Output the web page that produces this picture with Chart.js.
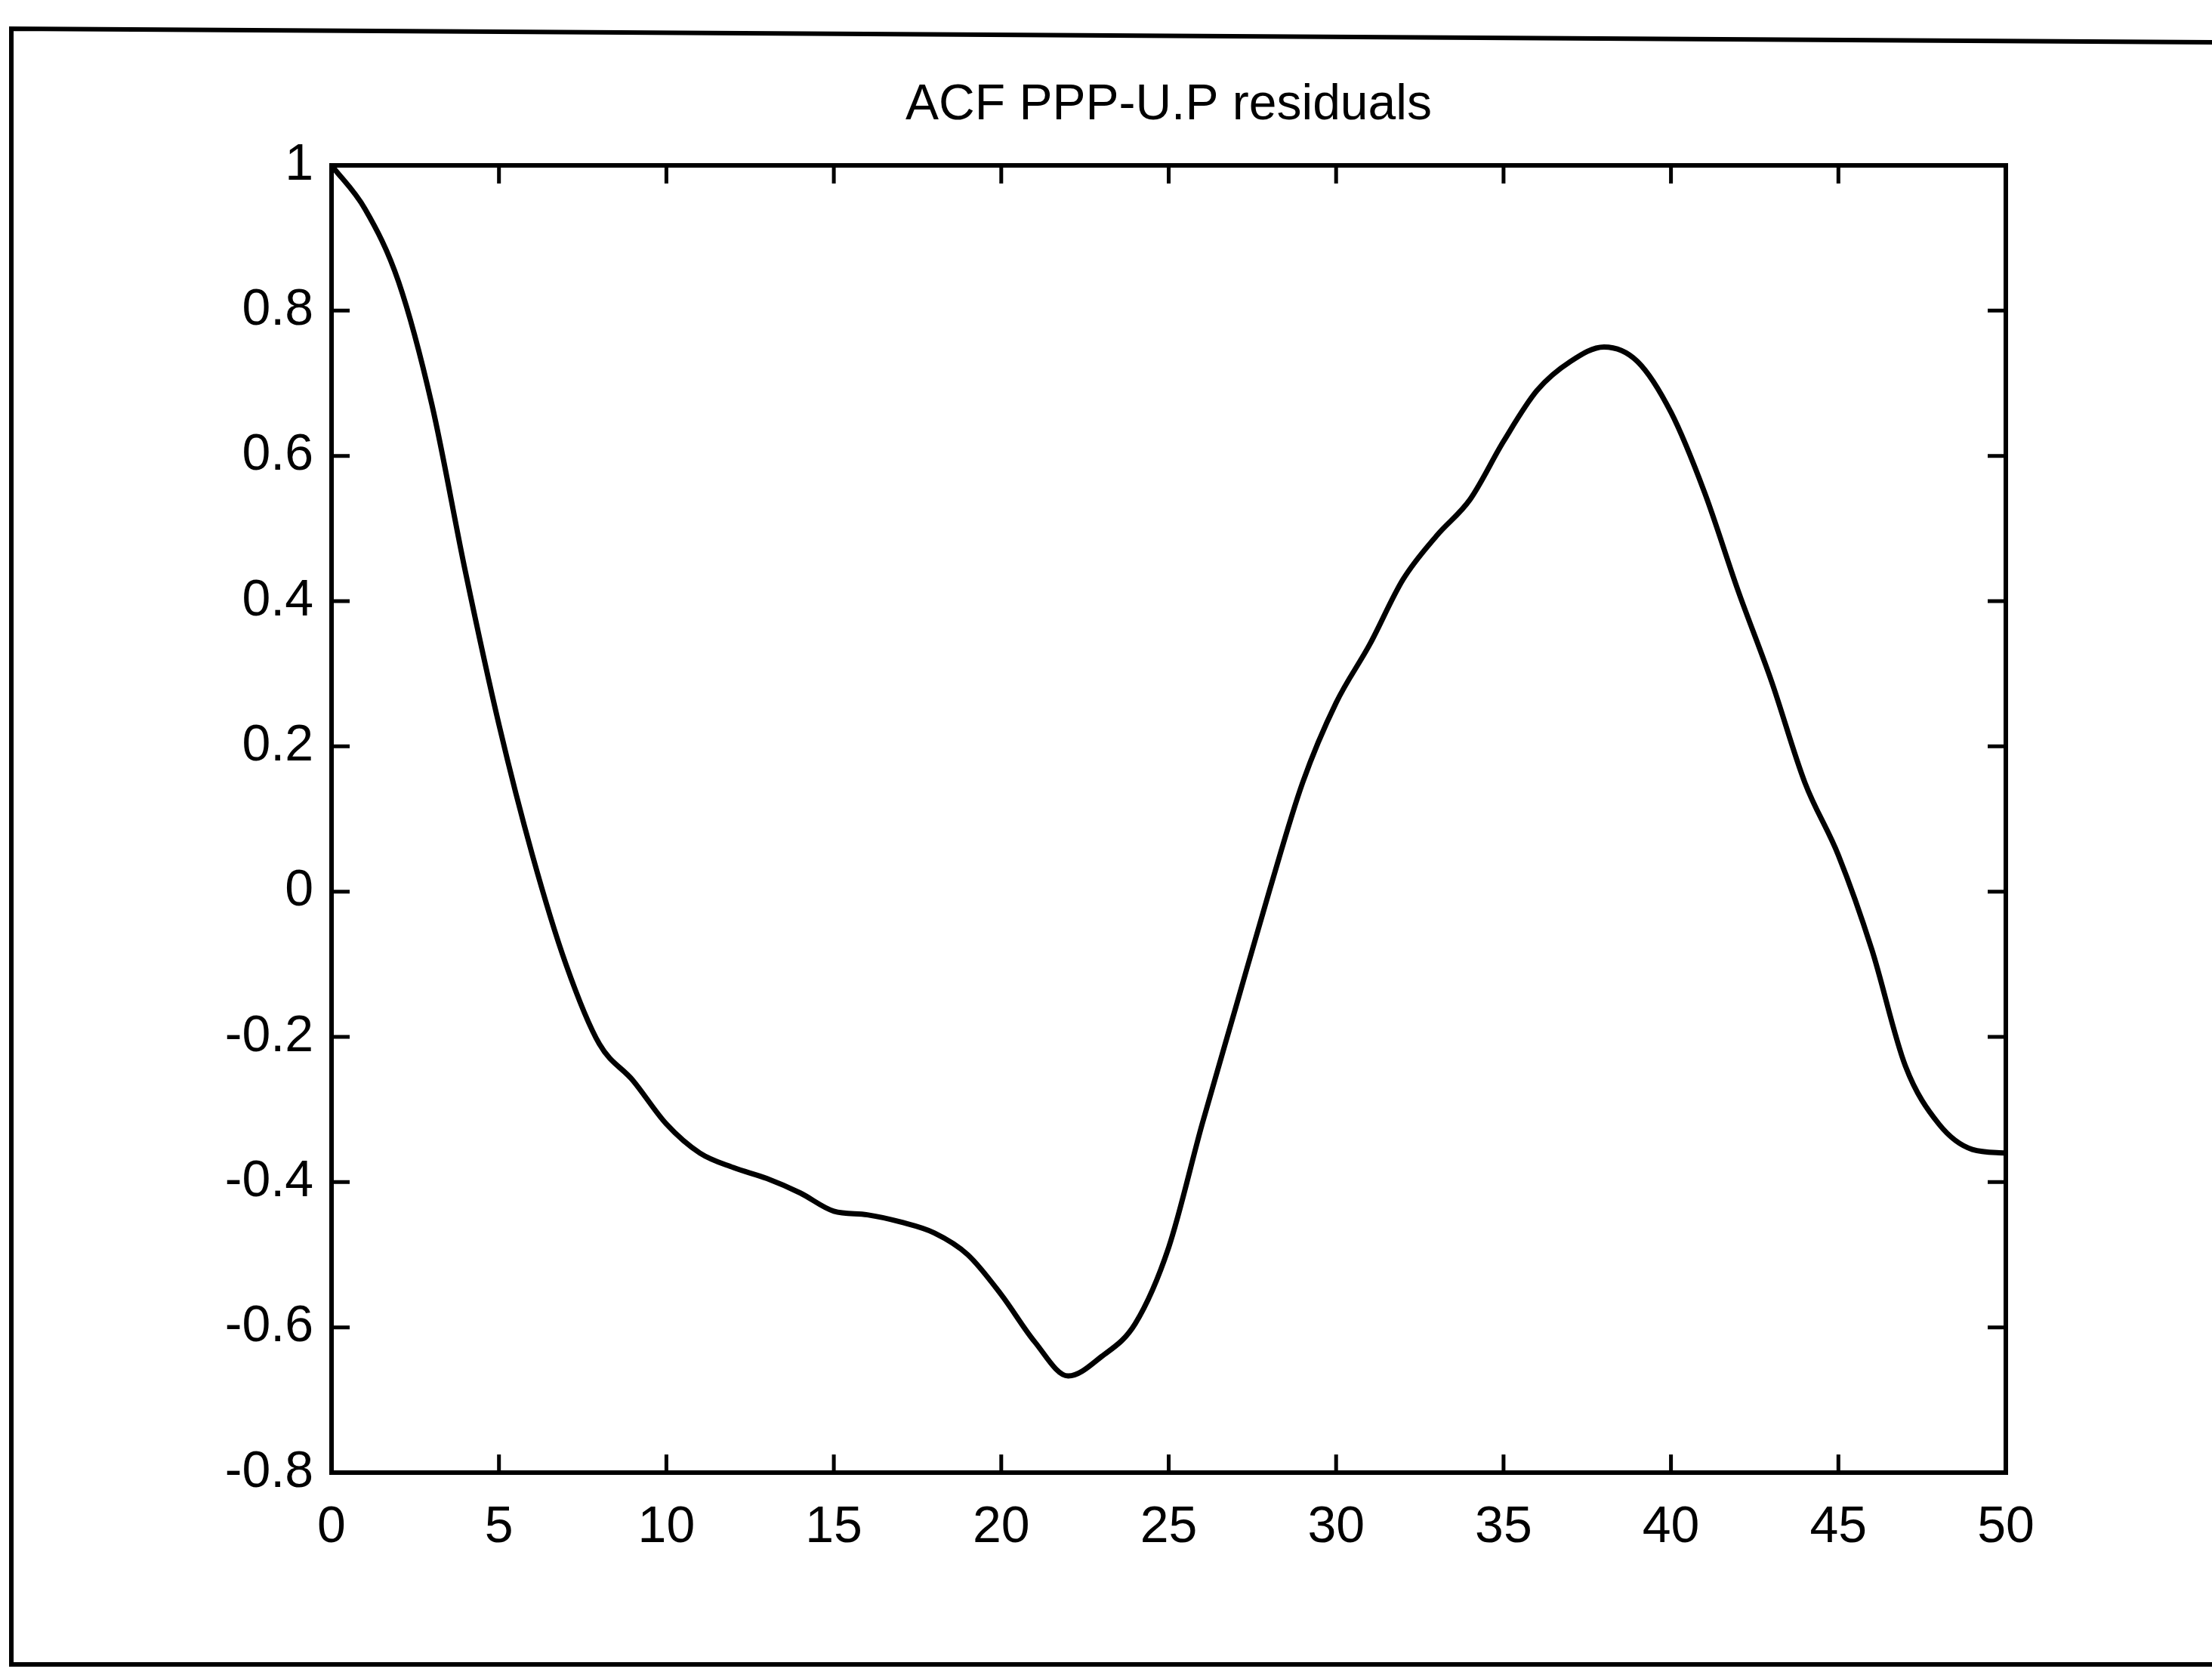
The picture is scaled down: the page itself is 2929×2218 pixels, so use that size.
<!DOCTYPE html>
<html>
<head>
<meta charset="utf-8">
<script src="https://cdn.jsdelivr.net/npm/chart.js@4/dist/chart.umd.min.js"></script>
<style>
html,body{margin:0;padding:0;background:#fff;}
#wrap{position:relative;width:2929px;height:2218px;}
</style>
</head>
<body>
<div id="wrap"><canvas id="c" width="2929" height="2218"></canvas></div>
<script>
const titleText = "ACF PPP-U.P residuals";
const lags = [0,1,2,3,4,5,6,7,8,9,10,11,12,13,14,15,16,17,18,19,20,21,22,23,24,25,26,27,28,29,30,31,32,33,34,35,36,37,38,39,40,41,42,43,44,45,46,47,48,49,50];
const acf = [1.0,0.94,0.84,0.67,0.44,0.23,0.05,-0.10,-0.21,-0.26,-0.32,-0.36,-0.38,-0.395,-0.415,-0.44,-0.445,-0.455,-0.47,-0.50,-0.555,-0.62,-0.667,-0.64,-0.595,-0.49,-0.32,-0.16,0.0,0.15,0.26,0.34,0.43,0.49,0.54,0.62,0.69,0.73,0.75,0.73,0.66,0.55,0.415,0.29,0.15,0.05,-0.08,-0.24,-0.32,-0.355,-0.36];
const xTicks = [0,5,10,15,20,25,30,35,40,45,50];
const yTicks = [-0.8,-0.6,-0.4,-0.2,0,0.2,0.4,0.6,0.8,1];

const FONT = '"Liberation Sans Narrow", "Liberation Sans", Arial, sans-serif';

const frame = {
  id: 'frame',
  beforeDraw(chart) {
    const ctx = chart.ctx;
    ctx.save();
    ctx.fillStyle = '#fff';
    ctx.fillRect(0, 0, chart.width, chart.height);
    ctx.strokeStyle = '#000';
    ctx.lineWidth = 6;
    ctx.beginPath();
    ctx.moveTo(2940, 56);
    ctx.lineTo(15, 38);
    ctx.lineTo(15, 2204);
    ctx.lineTo(2940, 2204);
    ctx.stroke();
    ctx.restore();
  },
  afterDatasetsDraw(chart) {
    const ctx = chart.ctx;
    const a = chart.chartArea;
    const xs = chart.scales.x, ys = chart.scales.y;
    const L = 24;
    ctx.save();
    ctx.strokeStyle = '#000';
    ctx.lineWidth = 5;
    ctx.beginPath();
    xTicks.forEach(v => {
      const px = xs.getPixelForValue(v);
      ctx.moveTo(px, a.bottom); ctx.lineTo(px, a.bottom - L);
      ctx.moveTo(px, a.top); ctx.lineTo(px, a.top + L);
    });
    yTicks.forEach(v => {
      const py = ys.getPixelForValue(v);
      ctx.moveTo(a.left, py); ctx.lineTo(a.left + L, py);
      ctx.moveTo(a.right, py); ctx.lineTo(a.right - L, py);
    });
    ctx.stroke();
    ctx.lineWidth = 6;
    ctx.strokeRect(a.left, a.top, a.right - a.left, a.bottom - a.top);
    // title centred over the axes box
    ctx.fillStyle = '#000';
    ctx.font = '66px ' + FONT;
    ctx.textAlign = 'center';
    ctx.textBaseline = 'middle';
    ctx.fillText(titleText, (a.left + a.right) / 2, 140);
    ctx.restore();
  }
};

new Chart(document.getElementById('c'), {
  type: 'line',
  data: {
    datasets: [{
      data: lags.map((x, i) => ({x: x, y: acf[i]})),
      borderColor: '#000',
      borderWidth: 7,
      pointRadius: 0,
      cubicInterpolationMode: 'monotone',
      fill: false
    }]
  },
  options: {
    responsive: false,
    animation: false,
    devicePixelRatio: 1,
    layout: { padding: { left: 0, right: 273, top: 219, bottom: 0 } },
    plugins: {
      legend: { display: false },
      tooltip: { enabled: false },
      title: { display: false }
    },
    scales: {
      x: {
        type: 'linear',
        min: 0, max: 50,
        afterBuildTicks(s) { s.ticks = xTicks.map(v => ({value: v})); },
        afterFit(s) { s.height = 268; },
        grid: { display: false, drawTicks: false },
        border: { display: false },
        ticks: {
          color: '#000',
          padding: 32,
          maxRotation: 0,
          font: { family: FONT, size: 68 },
          callback: v => String(v)
        }
      },
      y: {
        type: 'linear',
        min: -0.8, max: 1,
        afterBuildTicks(s) { s.ticks = yTicks.map(v => ({value: v})); },
        afterFit(s) { s.width = 439; },
        grid: { display: false, drawTicks: false },
        border: { display: false },
        ticks: {
          color: '#000',
          padding: 24,
          font: { family: FONT, size: 68 },
          callback: v => String(Math.round(v * 10) / 10)
        }
      }
    }
  },
  plugins: [frame]
});
</script>
</body>
</html>
